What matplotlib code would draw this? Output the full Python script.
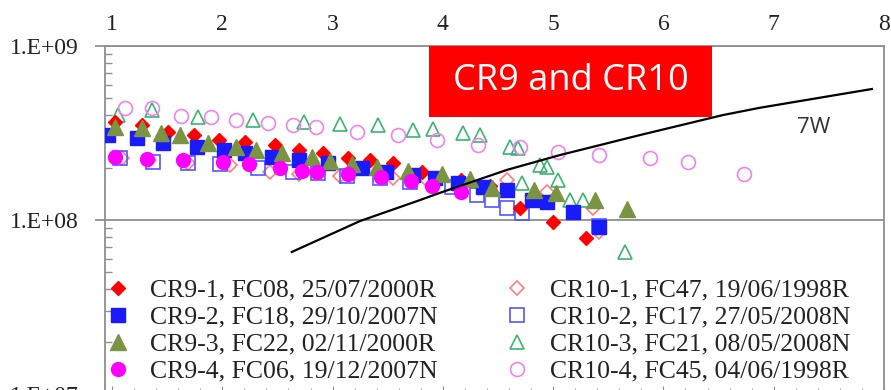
import numpy as np
import matplotlib
matplotlib.use('Agg')
import matplotlib.pyplot as plt
from matplotlib.patches import Rectangle
from matplotlib.ticker import FixedLocator, LogLocator, FuncFormatter, MultipleLocator

# CR9 series (filled markers)
cr9_1_x = [1.03, 1.27, 1.51, 1.74, 1.97, 2.21, 2.48, 2.70, 2.91, 3.14, 3.34, 3.55, 3.81, 4.16, 4.43, 4.70, 5.00, 5.30]
cr9_1_y = [3.66e8, 3.52e8, 3.21e8, 3.08e8, 2.89e8, 2.81e8, 2.70e8, 2.53e8, 2.43e8, 2.27e8, 2.21e8, 2.13e8, 1.89e8,
           1.70e8, 1.57e8, 1.17e8, 9.7e7, 7.9e7]
cr9_2_x = [0.96, 1.23, 1.46, 1.77, 2.02, 2.21, 2.45, 2.70, 2.96, 3.27, 3.48, 3.73, 3.93, 4.14, 4.36, 4.58, 4.81, 4.94,
           5.18, 5.42]
cr9_2_y = [3.08e8, 2.96e8, 2.77e8, 2.63e8, 2.53e8, 2.43e8, 2.30e8, 2.21e8, 2.13e8, 1.99e8, 1.89e8, 1.81e8, 1.74e8,
           1.63e8, 1.55e8, 1.49e8, 1.30e8, 1.27e8, 1.11e8, 9.1e7]
cr9_3_x = [1.03, 1.27, 1.44, 1.62, 1.87, 2.12, 2.31, 2.54, 2.81, 2.98, 3.18, 3.40, 3.68, 3.99, 4.25, 4.45, 4.83, 5.03,
           5.38, 5.67]
cr9_3_y = [3.42e8, 3.38e8, 3.16e8, 3.08e8, 2.77e8, 2.63e8, 2.53e8, 2.43e8, 2.30e8, 2.18e8, 2.10e8, 2.02e8, 1.91e8,
           1.84e8, 1.72e8, 1.53e8, 1.49e8, 1.43e8, 1.30e8, 1.16e8]
cr9_4_x = [1.03, 1.32, 1.64, 2.01, 2.24, 2.52, 2.72, 2.86, 3.14, 3.44, 3.71, 3.90, 4.16]
cr9_4_y = [2.30e8, 2.24e8, 2.21e8, 2.16e8, 2.10e8, 1.99e8, 1.91e8, 1.89e8, 1.84e8, 1.77e8, 1.68e8, 1.57e8, 1.45e8]

# CR10 series (open markers)
cr10_1_x = [1.09, 1.34, 1.69, 2.07, 2.43, 2.70, 3.07, 3.55, 3.84, 4.17, 4.58, 4.94, 5.36, 5.42]
cr10_1_y = [2.27e8, 2.21e8, 2.13e8, 2.07e8, 1.89e8, 1.84e8, 1.79e8, 1.74e8, 1.74e8, 1.63e8, 1.70e8, 1.45e8, 1.17e8,
            8.5e7]
cr10_2_x = [1.07, 1.37, 1.69, 1.98, 2.32, 2.64, 2.87, 3.13, 3.43, 3.70, 4.08, 4.31, 4.45, 4.58, 4.72, 5.42]
cr10_2_y = [2.27e8, 2.16e8, 2.13e8, 2.10e8, 1.99e8, 1.89e8, 1.86e8, 1.79e8, 1.74e8, 1.65e8, 1.55e8, 1.39e8, 1.30e8,
            1.17e8, 1.10e8, 9.2e7]
cr10_3_x = [1.05, 1.36, 1.78, 2.28, 2.74, 3.07, 3.41, 3.73, 3.91, 4.18, 4.34, 4.61, 4.68, 4.88, 4.94, 4.72, 5.04,
            5.15, 5.27, 5.65]
cr10_3_y = [4.01e8, 4.29e8, 3.91e8, 3.76e8, 3.66e8, 3.56e8, 3.52e8, 3.29e8, 3.33e8, 3.16e8, 3.08e8, 2.63e8, 2.60e8,
            2.07e8, 2.02e8, 1.63e8, 1.70e8, 1.30e8, 1.30e8, 6.55e7]
cr10_4_x = [1.12, 1.36, 1.63, 1.90, 2.12, 2.41, 2.64, 2.85, 3.22, 3.59, 3.95, 4.32, 4.70, 5.04, 5.42, 5.88, 6.22, 6.73]
cr10_4_y = [4.41e8, 4.41e8, 3.96e8, 3.91e8, 3.76e8, 3.61e8, 3.52e8, 3.42e8, 3.21e8, 3.08e8, 2.89e8, 2.70e8, 2.63e8,
            2.46e8, 2.36e8, 2.27e8, 2.16e8, 1.84e8]

# 7W reference curve
w7_x = [2.63, 3.25, 3.79, 3.97, 4.58, 5.06, 5.79, 6.54, 6.87, 7.30, 7.89]
w7_y = [6.55e7, 9.87e7, 1.30e8, 1.43e8, 1.94e8, 2.36e8, 3.08e8, 4.01e8, 4.41e8, 4.90e8, 5.66e8]

labels_cr9 = ['CR9-1, FC08, 25/07/2000R', 'CR9-2, FC18, 29/10/2007N',
              'CR9-3, FC22, 02/11/2000R', 'CR9-4, FC06, 19/12/2007N']
labels_cr10 = ['CR10-1, FC47, 19/06/1998R', 'CR10-2, FC17, 27/05/2008N',
               'CR10-3, FC21, 08/05/2008N', 'CR10-4, FC45, 04/06/1998R']
x_ticks = [1, 2, 3, 4, 5, 6, 7, 8]
y_ticks = [1e7, 1e8, 1e9]

serif = 'Liberation Serif'
axcol = '#8f8f8f'

fig = plt.figure(figsize=(8.91, 3.90), dpi=100)
ax = fig.add_axes([105 / 891, -4 / 390, 779 / 891, 348 / 390])
ax.set_yscale('log')
ax.set_xlim(1 - 7 / 110.3, 8)
ax.set_ylim(1e7, 1e9)

# open markers first, filled ones on top
h10 = []
h10 += ax.plot(cr10_1_x, cr10_1_y, 'D', ms=7, mfc='none', mec='#ff7f7f', mew=1.2, ls='none', zorder=3)
h10 += ax.plot(cr10_2_x, cr10_2_y, 's', ms=10, mfc='none', mec='#5555ff', mew=1.2, ls='none', zorder=3)
h10 += ax.plot(cr10_3_x, cr10_3_y, '^', ms=10, mfc='none', mec='#3cb371', mew=1.2, ls='none', zorder=4)
h10 += ax.plot(cr10_4_x, cr10_4_y, 'o', ms=10, mfc='none', mec='#ee82ee', mew=1.2, ls='none', zorder=4)

h9 = []
h9 += ax.plot(cr9_1_x, cr9_1_y, 'D', ms=7.5, color='#ff0000', ls='none', zorder=5)
h9 += ax.plot(cr9_2_x, cr9_2_y, 's', ms=10, color='#1a1aff', ls='none', zorder=5)
h9 += ax.plot(cr9_3_x, cr9_3_y, '^', ms=11, color='#7a9443', ls='none', zorder=5)
h9 += ax.plot(cr9_4_x, cr9_4_y, 'o', ms=10, color='#ff00ff', ls='none', zorder=5)

ax.plot(w7_x, w7_y, color='black', lw=1.6, zorder=6)
ax.text(7.21, 3.38e8, '7W', family='Open Sans', fontsize=16, color='#333333', ha='left', va='center')

# title box in the upper part of the plot
ax.add_patch(Rectangle((0.4159, 0.796), 0.3633, 0.204, transform=ax.transAxes,
                       facecolor='#ff0000', edgecolor='none', zorder=7))
ax.text(0.5975, 0.898, 'CR9 and CR10', transform=ax.transAxes, family='Open Sans', fontsize=26,
        color='white', ha='center', va='center', zorder=8)

# axes styling
for side in ['top', 'right', 'left', 'bottom']:
    ax.spines[side].set_color(axcol)
    ax.spines[side].set_linewidth(1.3)
ax.yaxis.set_major_locator(FixedLocator(y_ticks))
ax.yaxis.set_minor_locator(LogLocator(base=10, subs=np.arange(2, 10)))
ax.yaxis.set_major_formatter(FuncFormatter(lambda v, p: '1.E+%02d' % round(np.log10(v))))
ax.yaxis.set_minor_formatter(FuncFormatter(lambda v, p: ''))
ax.tick_params(axis='y', which='major', direction='out', length=7, width=1.3, color=axcol, pad=12,
               labelsize=17, labelcolor='#222222')
ax.tick_params(axis='y', which='minor', direction='in', length=5, width=1.0, color=axcol)
ax.grid(True, which='major', axis='y', color=axcol, lw=1.3)

ax.xaxis.set_major_locator(FixedLocator(x_ticks))
ax.xaxis.set_minor_locator(MultipleLocator(0.2))
ax.tick_params(axis='x', which='both', top=False, bottom=True, labeltop=True, labelbottom=False,
               direction='in', color=axcol)
ax.tick_params(axis='x', which='major', length=6, pad=8, labelsize=17, labelcolor='#222222')
ax.tick_params(axis='x', which='minor', length=4)
for lab in ax.get_xticklabels() + ax.get_yticklabels():
    lab.set_family(serif)

leg_kw = dict(loc='lower left', frameon=False, borderpad=0, borderaxespad=0, handlelength=1.0,
              handletextpad=0.75, labelspacing=0.16, prop={'family': serif, 'size': 18.5})
leg1 = ax.legend(h9, labels_cr9, bbox_to_anchor=(0.0, 0.032), **leg_kw)
for t in leg1.get_texts():
    t.set_color('#222222')
ax.add_artist(leg1)
leg2 = ax.legend(h10, labels_cr10, bbox_to_anchor=(0.513, 0.032), **leg_kw)
for t in leg2.get_texts():
    t.set_color('#222222')

fig.savefig('out.png', dpi=100)
